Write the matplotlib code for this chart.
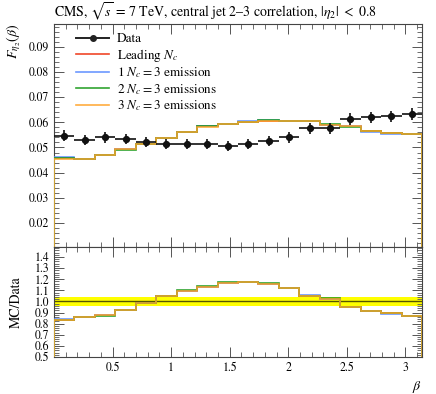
import numpy as np
import matplotlib
matplotlib.use('Agg')
import matplotlib.pyplot as plt
from matplotlib.ticker import MultipleLocator, FixedLocator, FuncFormatter
from matplotlib.lines import Line2D

plt.rcParams['font.family'] = 'STIXGeneral'
plt.rcParams['mathtext.fontset'] = 'stix'

# 18 equal bins in beta from 0 to pi
edges = np.linspace(0, np.pi, 19)

data = [0.0547, 0.0531, 0.0540, 0.0533, 0.0521, 0.0512, 0.0512, 0.0515, 0.0507,
        0.0514, 0.0524, 0.0540, 0.0576, 0.0577, 0.0613, 0.0619, 0.0623, 0.0634]
data_err = [0.0021, 0.0020, 0.0021, 0.0020, 0.0020, 0.0020, 0.0020, 0.0020, 0.0020,
            0.0020, 0.0020, 0.0021, 0.0022, 0.0022, 0.0023, 0.0023, 0.0023, 0.0024]

leading_nc = [0.0457, 0.0456, 0.0472, 0.0494, 0.0513, 0.0537, 0.0561, 0.0584, 0.0592,
              0.0603, 0.0607, 0.0607, 0.0604, 0.0590, 0.0584, 0.0566, 0.0559, 0.0553]
emission_1 = [0.0462, 0.0456, 0.0472, 0.0492, 0.0515, 0.0537, 0.0561, 0.0584, 0.0593,
              0.0604, 0.0608, 0.0607, 0.0607, 0.0590, 0.0584, 0.0563, 0.0555, 0.0553]
emission_2 = [0.0457, 0.0456, 0.0471, 0.0490, 0.0514, 0.0537, 0.0563, 0.0585, 0.0594,
              0.0603, 0.0609, 0.0607, 0.0605, 0.0595, 0.0580, 0.0565, 0.0557, 0.0553]
emission_3 = [0.0456, 0.0456, 0.0472, 0.0494, 0.0512, 0.0536, 0.0561, 0.0583, 0.0593,
              0.0602, 0.0607, 0.0606, 0.0604, 0.0589, 0.0584, 0.0566, 0.0557, 0.0553]

labels = ['Leading $N_c$', '1 $N_c = 3$ emission', '2 $N_c = 3$ emissions',
          '3 $N_c = 3$ emissions']
colors = ['#ee3311', '#5c8dff', '#1a9a1a', '#ffa42b']

data = np.array(data)
data_err = np.array(data_err)
centers = 0.5 * (edges[:-1] + edges[1:])
halfw = 0.5 * np.diff(edges)

fig = plt.figure(figsize=(4.36, 3.94), dpi=100)
ax = fig.add_axes([54/436, 1 - 247/394, 368/436, 223/394])
rax = fig.add_axes([54/436, 1 - 357/394, 368/436, 110/394], sharex=ax)

# data uncertainty band in ratio panel
rel = data_err / data
rax.fill_between(edges, np.append(1 - rel, 1 - rel[-1]), np.append(1 + rel, 1 + rel[-1]),
                 step='post', color='#ffff00', lw=0, zorder=1)
rax.axhline(1.0, color='#555500', lw=1.0, zorder=2)

handles = [Line2D([], [], color='#222222', lw=1.4, marker='o', ms=4)]
for series, lab, col in zip([leading_nc, emission_1, emission_2, emission_3], labels, colors):
    vals = np.array(series)
    ax.stairs(vals, edges, color=col, lw=1.2, alpha=0.9, zorder=3)
    rax.stairs(vals / data, edges, color=col, lw=1.2, alpha=0.9, zorder=3)
    handles.append(Line2D([], [], color=col, lw=1.2, alpha=0.9))

ax.errorbar(centers, data, xerr=halfw, yerr=data_err, fmt='o', color='#111111',
            ms=4.2, elinewidth=1.2, capsize=0, zorder=5)

ax.set_xlim(0, np.pi)
ax.set_ylim(0.0105, 0.099)
rax.set_ylim(0.5, 1.49)

ax.yaxis.set_major_locator(FixedLocator([0.02, 0.03, 0.04, 0.05, 0.06, 0.07, 0.08, 0.09]))
ax.yaxis.set_minor_locator(MultipleLocator(0.002))
ax.yaxis.set_major_formatter(FuncFormatter(lambda v, p: f'{v:.2f}'))
rax.yaxis.set_major_locator(FixedLocator(np.round(np.arange(0.5, 1.45, 0.1), 1)))
rax.yaxis.set_minor_locator(MultipleLocator(0.02))
rax.yaxis.set_major_formatter(FuncFormatter(lambda v, p: f'{v:.1f}'))
rax.xaxis.set_major_locator(FixedLocator([0.5, 1, 1.5, 2, 2.5, 3]))
rax.xaxis.set_minor_locator(MultipleLocator(0.1))
rax.xaxis.set_major_formatter(FuncFormatter(lambda v, p: f'{v:g}'))

for a in (ax, rax):
    a.tick_params(which='both', direction='in', top=True, right=True, color='#555555',
                  labelsize=8.5)
    a.tick_params(which='major', length=7, width=0.7)
    a.tick_params(which='minor', length=3.5, width=0.6)
    for s in a.spines.values():
        s.set_color('#444444')
        s.set_linewidth(0.8)
plt.setp(ax.get_xticklabels(), visible=False)

ax.set_ylabel(r'$F_{\eta_2}(\beta)$', fontsize=10, loc='top')
rax.set_ylabel('MC/Data', fontsize=10)
rax.set_xlabel(r'$\beta$', fontsize=10, loc='right')
ax.yaxis.set_label_coords(-0.085, 1.0)
rax.yaxis.set_label_coords(-0.085, 0.5)

ax.set_title(r'CMS, $\sqrt{s}$ = 7 TeV, central jet 2–3 correlation, $\vert\eta_2\vert\ <\ 0.8$',
             fontsize=10, loc='left', pad=5)

ax.legend(handles, ['Data'] + labels, loc='upper left',
          frameon=False, fontsize=9.5, handlelength=2.5, handletextpad=0.6,
          labelspacing=0.12, borderaxespad=0.3, bbox_to_anchor=(0.035, 1.0))

fig.savefig('out.png', dpi=100)
